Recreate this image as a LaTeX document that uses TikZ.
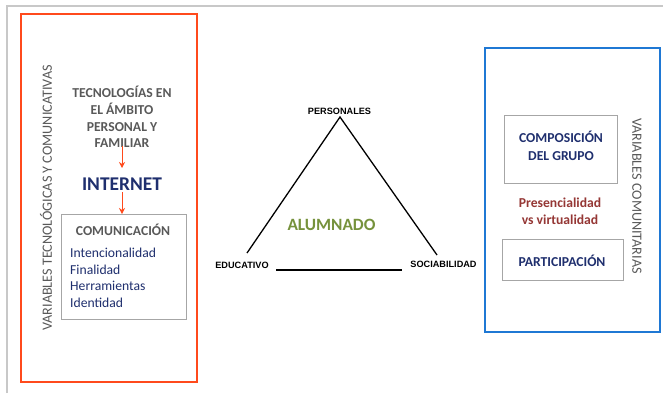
\documentclass[tikz,border=0pt]{standalone}
\usepackage{fontspec}
\setmainfont{Carlito}
\newfontfamily\arialf{Liberation Sans}
\usetikzlibrary{arrows.meta}
\definecolor{redb}{HTML}{FF4A1C}
\definecolor{blueb}{HTML}{1F78D4}
\definecolor{greyt}{HTML}{595959}
\definecolor{navy}{HTML}{1F2F6E}
\definecolor{olive}{HTML}{76923C}
\definecolor{dred}{HTML}{953735}
\definecolor{frame}{HTML}{C8C8C8}
\tikzset{
  bigbox/.style={line width=2.6pt},
  inbox/.style={draw=black!35, line width=0.6pt},
  redarrow/.style={draw=redb, line width=1pt, -{Stealth[length=6pt,width=6pt]}},
  tri/.style={line width=1.3pt, black},
  vlabel/.style={text=greyt, font=\fontsize{14.2}{14}\selectfont},
  hdr/.style={text=greyt, font=\bfseries\fontsize{13.7}{16.8}\selectfont, align=center},
  small/.style={font=\arialf\bfseries\fontsize{9.2}{9}\selectfont, text=black, inner sep=0pt},
}
\begin{document}
\begin{tikzpicture}[x=1bp,y=-1bp]
\useasboundingbox (0,0) rectangle (663,393);
\fill[white] (0,0) rectangle (663,393);
% outer frame
\draw[frame, line width=1.2pt] (7,393) -- (7,6) -- (663,6);
% red box
\draw[bigbox, draw=redb] (21,14) rectangle (197,382);
\node[vlabel, rotate=90] (vl) at (46,198) {VARIABLES TECNOLÓGICAS Y COMUNICATIVAS};
\node[hdr, inner sep=0pt] (tec) at (122,117) {TECNOLOGÍAS EN\\EL ÁMBITO\\PERSONAL Y\\FAMILIAR};
\node[text=navy, font=\bfseries\fontsize{19.5}{19}\selectfont, inner sep=0pt] (int) at (122,184) {INTERNET};
\node[inbox, minimum width=125bp, minimum height=105bp] (com) at (123.5,266.5) {};
\node[text=greyt, font=\bfseries\fontsize{13.7}{14}\selectfont, inner sep=0pt] (comt) at (123,230) {COMUNICACIÓN};
\node[text=navy, font=\fontsize{13.7}{16.6}\selectfont, align=left, anchor=north west, inner sep=0pt] (list) at (70,248) {Intencionalidad\\Finalidad\\Herramientas\\Identidad};
\coordinate (a1s) at (122,146);
\coordinate (a1e) at (122,168);
\coordinate (a2s) at (122,192);
\coordinate (a2e) at (122,214);
\draw[redarrow] (a1s) -- (a1e);
\draw[redarrow] (a2s) -- (a2e);
% triangle
\coordinate (apex) at (340,117);
\coordinate (bl) at (247,253);
\coordinate (br) at (437,255);
\coordinate (b1) at (276,270);
\coordinate (b2) at (402,270);
\draw[tri] (bl) -- (apex) -- (br);
\draw[tri] (b1) -- (b2);
\node[small] (pers) at (339.5,111) {PERSONALES};
\node[small] (edu) at (242,265) {EDUCATIVO};
\node[small] (soc) at (443.5,264) {SOCIABILIDAD};
\node[text=olive, font=\bfseries\fontsize{17.3}{17}\selectfont, inner sep=0pt] (alu) at (331.5,225) {ALUMNADO};
% blue box
\draw[bigbox, draw=blueb] (485,48) rectangle (660,332);
\node[inbox, minimum width=113bp, minimum height=68bp] (comp) at (560.5,149) {};
\node[text=navy, font=\bfseries\fontsize{13.7}{18}\selectfont, align=center, inner sep=0pt] (compt) at (561,146) {COMPOSICIÓN\\DEL GRUPO};
\node[text=dred, font=\bfseries\fontsize{13.7}{17}\selectfont, align=center, inner sep=0pt] (pres) at (560,211.5) {Presencialidad\\vs virtualidad};
\node[inbox, minimum width=121bp, minimum height=41bp] (part) at (562.5,259.5) {};
\node[text=navy, font=\bfseries\fontsize{13.7}{14}\selectfont, inner sep=0pt] (partt) at (562,261) {PARTICIPACIÓN};
\node[vlabel, rotate=-90] (vr) at (637,196) {VARIABLES COMUNITARIAS};
\end{tikzpicture}
\end{document}
